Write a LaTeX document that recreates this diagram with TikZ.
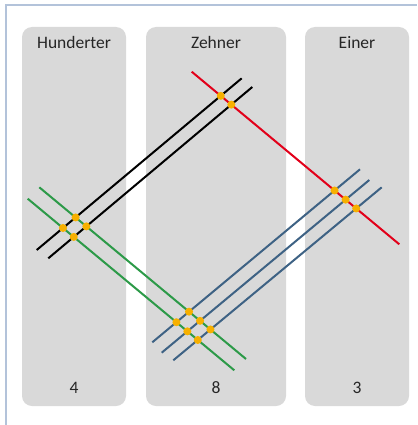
\documentclass[tikz,border=0pt]{standalone}
\usepackage{fontspec}
\setmainfont{Carlito}
\begin{document}
\begin{tikzpicture}[x=1pt,y=-1pt,
  panel/.style={draw=none,fill=panelgray,rounded corners=10pt,inner sep=0pt,minimum height=379pt},
  lbl/.style={text=txtgray,font=\fontsize{17.5}{20}\selectfont,inner sep=0pt,anchor=base},
  ln/.style={line width=2pt},
  dot/.style={fill=dotorange}]
\definecolor{panelgray}{HTML}{D9D9D9}
\definecolor{txtgray}{HTML}{262626}
\definecolor{frameblue}{HTML}{B3C3DA}
\definecolor{lred}{HTML}{E2001A}
\definecolor{lgreen}{HTML}{2C9A48}
\definecolor{lblue}{HTML}{3E6284}
\definecolor{dotorange}{HTML}{F7B000}
\useasboundingbox (0,0) rectangle (417,425);
\draw[frameblue,line width=1.5pt] (6,425) -- (6,5) -- (417,5);
% panels
\node[panel,minimum width=104pt] (ph) at (74,216.5) {};
\node[panel,minimum width=140pt] (pz) at (216,216.5) {};
\node[panel,minimum width=104pt] (pe) at (357,216.5) {};
% labels
\node[lbl] (th) at (74,49) {Hunderter};
\node[lbl] (tz) at (216,49) {Zehner};
\node[lbl] (te) at (357,49) {Einer};
\node[lbl] (nh) at (74,393) {4};
\node[lbl] (nz) at (216,393) {8};
\node[lbl] (ne) at (357,393) {3};
% line endpoints
\coordinate (r1) at (191.7,71.7);  \coordinate (r2) at (399.3,244.3);
\coordinate (k1a) at (36.7,250);   \coordinate (k1b) at (241.7,78.3);
\coordinate (k2a) at (48.3,258.3); \coordinate (k2b) at (252.3,87);
\coordinate (g1a) at (39.3,187.3); \coordinate (g1b) at (246,359);
\coordinate (g2a) at (27.7,198.7); \coordinate (g2b) at (234.3,370.3);
\coordinate (b1a) at (152.3,342.3); \coordinate (b1b) at (360,169.3);
\coordinate (b2a) at (161.7,352.7); \coordinate (b2b) at (369.3,180);
\coordinate (b3a) at (173.3,360.3); \coordinate (b3b) at (381.7,187.3);
% lines
\draw[ln,black] (k1a) -- (k1b);
\draw[ln,black] (k2a) -- (k2b);
\draw[ln,lred] (r1) -- (r2);
\draw[ln,lgreen] (g1a) -- (g1b);
\draw[ln,lgreen] (g2a) -- (g2b);
\draw[ln,lblue] (b1a) -- (b1b);
\draw[ln,lblue] (b2a) -- (b2b);
\draw[ln,lblue] (b3a) -- (b3b);
% intersection dots
\foreach \k in {k1,k2}{
  \fill[dot] (intersection of r1--r2 and \k a--\k b) circle (4);
  \fill[dot] (intersection of g1a--g1b and \k a--\k b) circle (4);
  \fill[dot] (intersection of g2a--g2b and \k a--\k b) circle (4);
}
\foreach \b in {b1,b2,b3}{
  \fill[dot] (intersection of r1--r2 and \b a--\b b) circle (4);
  \fill[dot] (intersection of g1a--g1b and \b a--\b b) circle (4);
  \fill[dot] (intersection of g2a--g2b and \b a--\b b) circle (4);
}
\end{tikzpicture}
\end{document}
